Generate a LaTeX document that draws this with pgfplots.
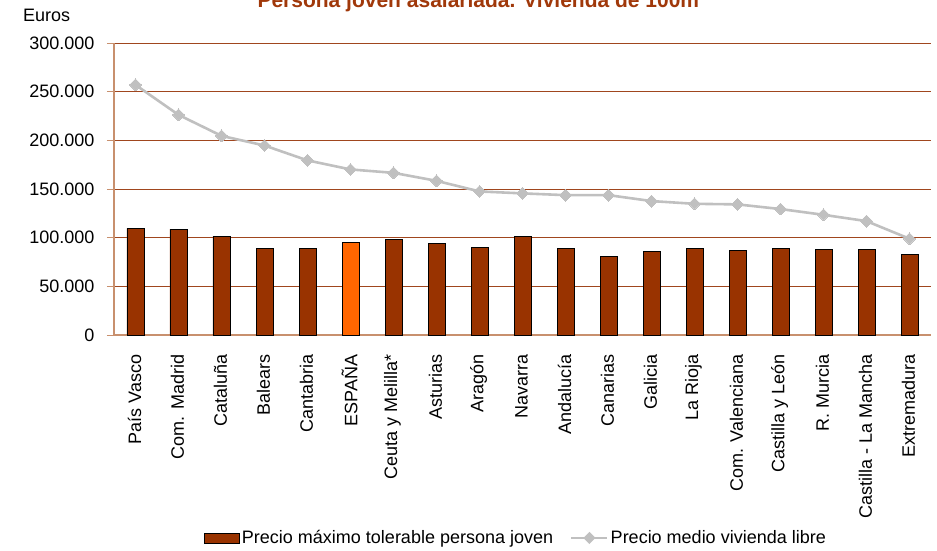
\documentclass[border=0pt]{standalone}
\usepackage{fontspec}
\setmainfont{Liberation Sans}
\usepackage{pgfplots}
\pgfplotsset{compat=1.18}
\definecolor{barc}{HTML}{993300}
\definecolor{espc}{HTML}{FF6600}
\definecolor{linec}{HTML}{C0C0C0}
\definecolor{gridc}{HTML}{A0461E}
\definecolor{axc}{HTML}{C8906E}
\definecolor{titc}{HTML}{A0380A}
\begin{document}
\begin{tikzpicture}[font=\fontsize{18}{21}\selectfont]
\begin{axis}[
  at={(0pt,0pt)}, anchor=south west,
  scale only axis, width=817pt, height=292pt,
  xmin=-0.5, xmax=18.5, ymin=0, ymax=300000,
  ytick={0,50000,100000,150000,200000,250000,300000},
  scaled y ticks=false,
  /pgf/number format/assume math mode=true,
  yticklabel style={/pgf/number format/fixed, /pgf/number format/precision=0, /pgf/number format/1000 sep={.}, xshift=-9pt},
  ymajorgrids, grid style={gridc, line width=0.8pt},
  axis x line*=bottom, axis y line*=left,
  axis line style={axc, line width=1.2pt},
  tick align=outside, major tick length=7pt,
  ytick style={axc, line width=1pt},
  xtick={0,...,18},
  xtick style={draw=none},
  xticklabels={País Vasco, Com. Madrid, Cataluña, Balears, Cantabria, ESPAÑA, Ceuta y Melilla*, Asturias, Aragón, Navarra, Andalucía, Canarias, Galicia, La Rioja, Com. Valenciana, Castilla y León, R. Murcia, Castilla - La Mancha, Extremadura},
  xticklabel style={rotate=90, anchor=east, xshift=-9pt, yshift=1pt},
  legend columns=2,
  legend style={draw=none, fill=none, at={(0.492,-0.695)}, anchor=center, font=\fontsize{18}{21}\selectfont,
    /tikz/every even column/.append style={column sep=15pt}},
  legend cell align=left,
]
\addplot[ybar, bar width=17pt, bar shift=0pt, fill=barc, draw=black, line width=0.9pt,
  legend image code/.code={\draw[fill=barc, draw=black, line width=0.9pt] (0pt,-5pt) rectangle (35pt,5pt);}]
  coordinates {(0,109500) (1,108800) (2,101300) (3,88600) (4,88600) (5,95200) (6,97900) (7,94100) (8,90300) (9,100900) (10,88600) (11,80400) (12,85500) (13,89300) (14,86900) (15,88900) (16,87900) (17,87600) (18,82800)};
\addlegendentry{Precio máximo tolerable persona joven}
\addplot[ybar, bar width=17pt, bar shift=0pt, fill=espc, draw=black, line width=0.9pt, forget plot]
  coordinates {(5,95200)};
\addplot[linec, line width=2.6pt, mark=square*, mark size=4.2pt,
  mark options={rotate=45, fill=linec, draw=linec, line width=0pt},
  legend image code/.code={\draw[linec, line width=2.6pt] (0pt,0pt) -- (36pt,0pt); \fill[linec, rotate around={45:(18pt,0pt)}] (15pt,-3pt) rectangle (21pt,3pt);}]
  coordinates {(0,257000) (1,226200) (2,204600) (3,194700) (4,179400) (5,170100) (6,166600) (7,158400) (8,147500) (9,145500) (10,143700) (11,143700) (12,137600) (13,134800) (14,134200) (15,129400) (16,123500) (17,117000) (18,98900)};
\addlegendentry{Precio medio vivienda libre}
\end{axis}
\node[anchor=base west, font=\bfseries\fontsize{21}{24}\selectfont, text=titc] at (140pt,328pt) {Persona joven asalariada. Vivienda de 100m\textsuperscript{2}};
\node[anchor=base west, inner sep=0pt] at (-91pt,314pt) {Euros};
\pgfresetboundingbox
\useasboundingbox (-114pt,-215pt) rectangle (823pt,335pt);
\end{tikzpicture}
\end{document}
